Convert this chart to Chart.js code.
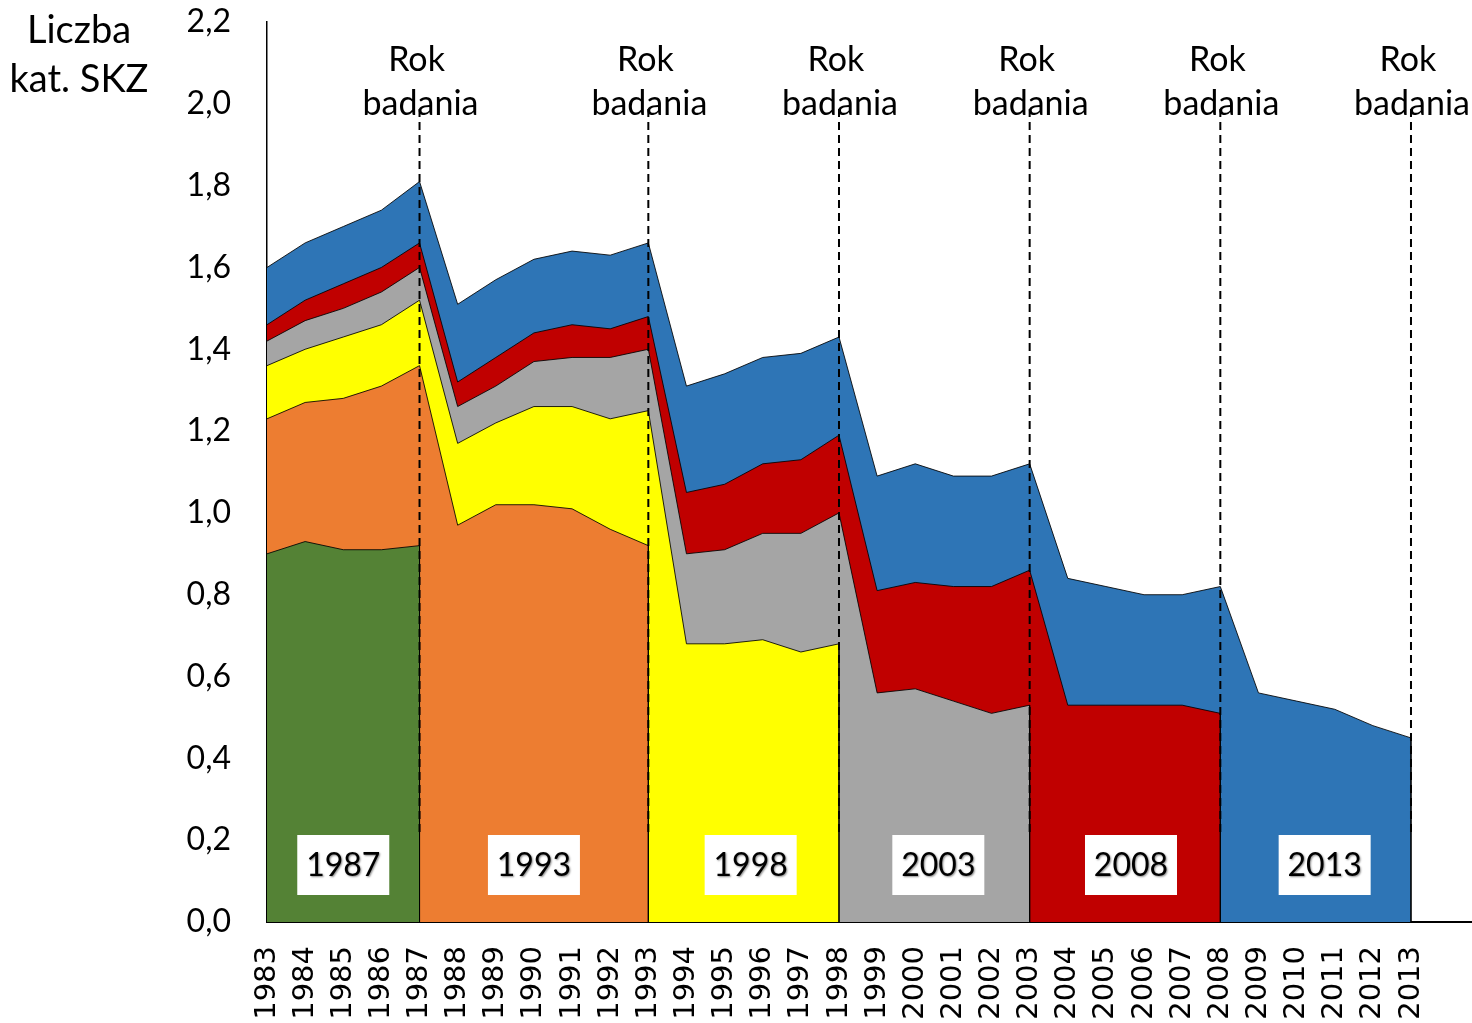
<!DOCTYPE html>
<html>
<head>
<meta charset="utf-8">
<script src="https://cdn.jsdelivr.net/npm/chart.js@4.4.1/dist/chart.umd.min.js"></script>
<style>
  body { margin: 0; background: #fff; }
</style>
</head>
<body>
<canvas id="skzChart" width="1472" height="1023"></canvas>
<script>
// DATA
const years = [1983, 1984, 1985, 1986, 1987, 1988, 1989, 1990, 1991, 1992, 1993,
  1994, 1995, 1996, 1997, 1998, 1999, 2000, 2001, 2002, 2003,
  2004, 2005, 2006, 2007, 2008, 2009, 2010, 2011, 2012, 2013];
const surveyYears = [1987, 1993, 1998, 2003, 2008, 2013];
const yTicks = [0, 0.2, 0.4, 0.6, 0.8, 1.0, 1.2, 1.4, 1.6, 1.8, 2.0, 2.2];

// values of each survey layer, from 1983 up to its survey year
const s1987 = [0.90, 0.93, 0.91, 0.91, 0.92];
const s1993 = [0.33, 0.34, 0.37, 0.40, 0.44, 0.97, 1.02, 1.02, 1.01, 0.96, 0.92];
const s1998 = [0.13, 0.13, 0.15, 0.15, 0.16, 0.20, 0.20, 0.24, 0.25, 0.27, 0.33,
  0.68, 0.68, 0.69, 0.66, 0.68];
const s2003 = [0.06, 0.07, 0.07, 0.08, 0.08, 0.09, 0.09, 0.11, 0.12, 0.15, 0.15,
  0.22, 0.23, 0.26, 0.29, 0.32, 0.56, 0.57, 0.54, 0.51, 0.53];
const s2008 = [0.04, 0.05, 0.06, 0.06, 0.06, 0.06, 0.07, 0.07, 0.08, 0.07, 0.08,
  0.15, 0.16, 0.17, 0.18, 0.19, 0.25, 0.26, 0.28, 0.31, 0.33,
  0.53, 0.53, 0.53, 0.53, 0.51];
const s2013 = [0.14, 0.14, 0.14, 0.14, 0.15, 0.19, 0.19, 0.18, 0.18, 0.18, 0.18,
  0.26, 0.27, 0.26, 0.26, 0.24, 0.28, 0.29, 0.27, 0.27, 0.26,
  0.31, 0.29, 0.27, 0.27, 0.31, 0.56, 0.54, 0.52, 0.48, 0.45];

const layers = [s1987, s1993, s1998, s2003, s2008, s2013];
const colors = ['#548235', '#ED7D31', '#FFFF00', '#A5A5A5', '#C00000', '#2E75B6'];

// dashed marker line range
const markerFrom = 0.22;
const markerTo = 1.99;

// stacked top of layer i, with a vertical drop to 0 at its survey year
function layerPoints(i) {
  const pts = [];
  for (let k = 0; k < layers[i].length; k++) {
    let sum = 0;
    for (let j = 0; j <= i; j++) {
      if (k < layers[j].length) sum += layers[j][k];
    }
    pts.push({ x: years[k], y: Math.round(sum * 100) / 100 });
  }
  pts.push({ x: surveyYears[i], y: 0 });
  return pts;
}

const datasets = [];

// dashed "Rok badania" lines on top
surveyYears.forEach(yr => {
  datasets.push({
    label: 'marker ' + yr,
    data: [{ x: yr, y: markerFrom }, { x: yr, y: markerTo }],
    borderColor: '#000',
    borderWidth: 2,
    borderDash: [8, 5],
    pointRadius: 0,
    fill: false,
    order: 0
  });
});

// areas: lower order draws later, so 1987 sits on top of 1993 etc.
layers.forEach((vals, i) => {
  datasets.push({
    label: String(surveyYears[i]),
    data: layerPoints(i),
    backgroundColor: colors[i],
    borderColor: 'rgba(0,0,0,0.85)',
    borderWidth: 1,
    pointRadius: 0,
    tension: 0,
    fill: 'origin',
    order: i + 1
  });
});

// small nudges of the year boxes, like the hand placed boxes of the original
const boxNudge = [0, 0, 7, 4, 6, 9];

// TEXT OVERLAYS
const textPlugin = {
  id: 'textPlugin',
  afterDatasetsDraw(chart) {
    const ctx = chart.ctx;
    const xs = chart.scales.x;
    const ys = chart.scales.y;
    ctx.save();
    ctx.fillStyle = '#000';
    ctx.textAlign = 'center';
    ctx.textBaseline = 'middle';

    // axis title
    ctx.font = '38px Lato';
    ctx.fillText('Liczba', 79, 31);
    ctx.fillText('kat. SKZ', 79, 80);

    // Rok badania
    ctx.font = '34px Lato';
    surveyYears.forEach(yr => {
      const px = xs.getPixelForValue(yr);
      ctx.fillText('Rok', px - 3, 60);
      ctx.fillText('badania', px + 1, 104);
    });

    // year boxes in the middle of each band
    let prev = years[0];
    surveyYears.forEach((yr, i) => {
      const cx = xs.getPixelForValue((prev + yr) / 2) + boxNudge[i];
      const cy = ys.bottom - 57;
      ctx.fillStyle = '#fff';
      ctx.fillRect(cx - 46, cy - 30, 92, 60);
      ctx.fillStyle = '#000';
      ctx.font = '32px Lato';
      ctx.shadowColor = 'rgba(0,0,0,0.45)';
      ctx.shadowOffsetX = 1;
      ctx.shadowOffsetY = 1;
      ctx.shadowBlur = 2;
      ctx.fillText(String(yr), cx, cy + 1);
      ctx.shadowColor = 'transparent';
      prev = yr;
    });
    ctx.restore();
  }
};

const config = {
  type: 'line',
  data: { datasets: datasets },
  options: {
    responsive: false,
    animation: false,
    devicePixelRatio: 1,
    layout: { padding: { top: 22, right: 0, left: 0, bottom: 0 } },
    plugins: {
      legend: { display: false },
      tooltip: { enabled: false }
    },
    scales: {
      x: {
        type: 'linear',
        min: 1983,
        max: 2014.6,
        grid: { display: false, drawTicks: false },
        border: { display: true, color: '#000', width: 2 },
        afterBuildTicks: scale => {
          scale.ticks = years.map(v => ({ value: v }));
        },
        afterFit: scale => {
          scale.height = 101;
          scale.paddingLeft = 0;
          scale.paddingRight = 0;
          scale.paddingTop = 0;
          scale.paddingBottom = 0;
        },
        ticks: {
          autoSkip: false,
          maxRotation: 90,
          minRotation: 90,
          padding: 24,
          color: '#000',
          font: { family: 'DejaVu Sans', size: 29 },
          callback: v => String(v)
        }
      },
      y: {
        min: 0,
        max: 2.2,
        grid: { display: false, drawTicks: false },
        border: { display: true, color: '#000', width: 1.5 },
        afterBuildTicks: scale => {
          scale.ticks = yTicks.map(v => ({ value: v }));
        },
        afterFit: scale => {
          scale.width = 267;
          scale.paddingTop = 0;
          scale.paddingBottom = 0;
          scale.paddingLeft = 0;
          scale.paddingRight = 0;
        },
        ticks: {
          padding: 36,
          color: '#000',
          font: { family: 'Lato', size: 32 },
          callback: v => v.toFixed(1).replace('.', ',')
        }
      }
    }
  },
  plugins: [textPlugin]
};

const skzChart = new Chart(document.getElementById('skzChart'), config);
</script>
</body>
</html>
